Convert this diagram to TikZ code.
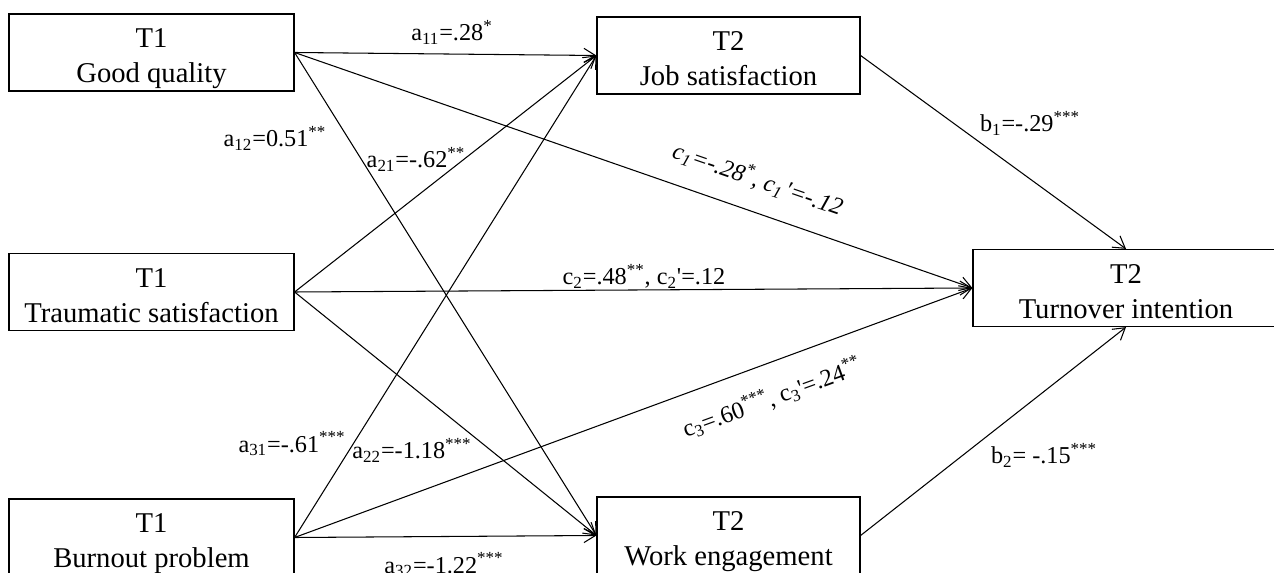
\documentclass[tikz,border=0pt]{standalone}
\usepackage{fontspec}
\setmainfont{Liberation Serif}
\usetikzlibrary{arrows.meta}
\tikzset{
  var/.style   = {rectangle, draw, line width=0.7pt, minimum height=1.54cm, inner sep=0pt,
                  align=center, font=\fontsize{16.3}{20}\selectfont},
  arr/.style   = {-{Straight Barb[length=2.3mm, width=2.8mm]}, line width=0.6pt},
  coef/.style  = {inner sep=0pt, font=\fontsize{13.8}{16}\selectfont}
}
\newcommand{\wave}[2]{\rule{0pt}{19pt}#1\\#2\rule[-4.5pt]{0pt}{4.5pt}}

\begin{document}
\begin{tikzpicture}[x=0.02cm, y=-0.02cm]
        \useasboundingbox (0,0) rectangle (1274,573);
        \clip (0,0) rectangle (1274,573);
        % T1 predictors
        \node[var, minimum width=5.7cm]  (gq) at (151.5, 52.5)  {\wave{T1}{Good quality}};
        \node[var, minimum width=5.7cm]  (ts) at (151.5, 292)   {\wave{T1}{Traumatic satisfaction}};
        \node[var, minimum width=5.7cm]  (bp) at (151.5, 537.5) {\wave{T1}{Burnout problem}};
        % T2 mediators and outcome
        \node[var, minimum width=5.26cm] (js) at (728.5, 55.5)  {\wave{T2}{Job satisfaction}};
        \node[var, minimum width=5.26cm] (we) at (728.5, 535.5) {\wave{T2}{Work engagement}};
        \node[var, minimum width=6.12cm] (ti) at (1126, 288)    {\wave{T2}{Turnover intention}};
        % paths
        \draw[arr] (gq.east) -- (js.west);
        \draw[arr] (gq.east) -- (we.west);
        \draw[arr] (gq.east) -- (ti.west);
        \draw[arr] (ts.east) -- (js.west);
        \draw[arr] (ts.east) -- (we.west);
        \draw[arr] (ts.east) -- (ti.west);
        \draw[arr] (bp.east) -- (js.west);
        \draw[arr] (bp.east) -- (we.west);
        \draw[arr] (bp.east) -- (ti.west);
        \draw[arr] (js.east) -- (ti.north);
        \draw[arr] (we.east) -- (ti.south);
        % coefficients
        \node[coef] (la11) at (452, 32)  {a\textsubscript{11}=.28\textsuperscript{*}};
        \node[coef] (la12) at (275, 138) {a\textsubscript{12}=0.51\textsuperscript{**}};
        \node[coef] (la21) at (416, 159) {a\textsubscript{21}=-.62\textsuperscript{**}};
        \node[coef] (la31) at (292, 444) {a\textsubscript{31}=-.61\textsuperscript{***}};
        \node[coef] (la22) at (412, 450) {a\textsubscript{22}=-1.18\textsuperscript{***}};
        \node[coef] (la32) at (444, 565) {a\textsubscript{32}=-1.22\textsuperscript{***}};
        \node[coef] (lb1)  at (1030, 123) {b\textsubscript{1}=-.29\textsuperscript{***}};
        \node[coef] (lb2)  at (1044, 455) {b\textsubscript{2}= -.15\textsuperscript{***}};
        \node[coef, rotate=-19.1, font=\fontsize{13.8}{16}\selectfont\itshape] (lc1) at (758, 179)
          {c\textsubscript{1}=-.28\textsuperscript{*}, c\textsubscript{1}\kern1pt\textquotesingle=-.12};
        \node[coef] (lc2) at (644, 276)
          {c\textsubscript{2}=.48\textsuperscript{**}, c\textsubscript{2}\textquotesingle=.12};
        \node[coef, rotate=20] (lc3) at (772, 398)
          {c\textsubscript{3}=.60\textsuperscript{***}, c\textsubscript{3}\textquotesingle=.24\textsuperscript{**}};
      \end{tikzpicture}
\end{document}
